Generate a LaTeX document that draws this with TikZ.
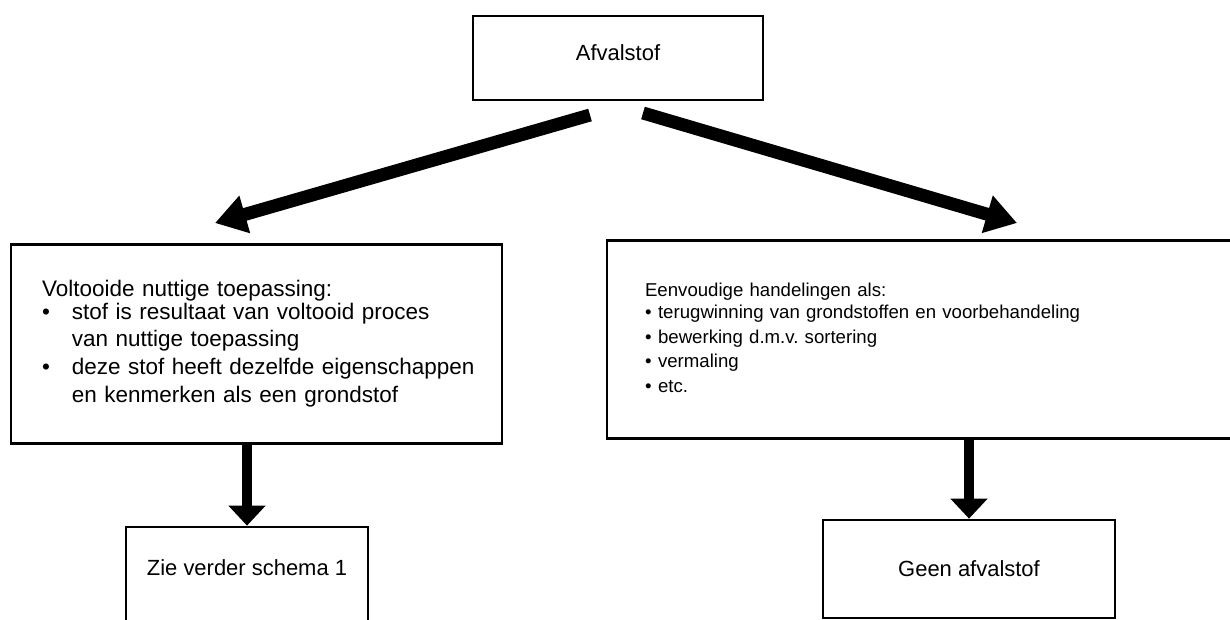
\documentclass[tikz,border=0pt]{standalone}
\usepackage{fontspec}
\setmainfont{Liberation Sans}
\usetikzlibrary{arrows.meta}
\frenchspacing

\begin{document}
\begin{tikzpicture}[x=0.02cm,y=-0.02cm]

    % Styles
    \tikzset{
        box/.style={rectangle, draw=black, line width=0.055cm, inner sep=0pt, font=\fontsize{12.5pt}{15pt}\selectfont},
        listbox/.style={box, align=left},
        bigarrow/.style={line width=0.26cm, -{Triangle[width=0.74cm,length=0.62cm]}},
        downarrow/.style={line width=0.2cm, -{Triangle[width=0.72cm,length=0.4cm]}}
    }

    % Frame (the right list box runs off the page)
    \useasboundingbox (0,0) rectangle (1230,619);
    \clip (0,0) rectangle (1230,619);

    % Boxes
    \node[box, minimum width=5.8cm, minimum height=1.68cm, text depth=0.2cm] (afval) at (618,58) {Afvalstof};

    \node[listbox, text width=8.58cm, inner xsep=0.62cm, minimum height=3.98cm,
          font=\fontsize{12.8pt}{15.9pt}\selectfont] (voltooid) at (256.5,344) {%
        \begin{tabular}{@{}l@{\hspace{0.44cm}}l@{}}
            \multicolumn{2}{@{}l@{}}{Voltooide nuttige toepassing:}\\[-3pt]
            \textbullet & stof is resultaat van voltooid proces\\
                        & van nuttige toepassing\\
            \textbullet & deze stof heeft dezelfde eigenschappen\\
                        & en kenmerken als een grondstof
        \end{tabular}};

    \node[listbox, text width=11.14cm, inner xsep=0.76cm, minimum height=3.96cm,
          font=\fontsize{10.6pt}{14.2pt}\selectfont] (handel) at (923.5,339.5) {%
        \begin{tabular}{@{}l@{\hspace{0.13cm}}l@{}}
            \multicolumn{2}{@{}l@{}}{Eenvoudige handelingen als:}\\[-1.7pt]
            \textbullet & terugwinning van grondstoffen en voorbehandeling\\
            \textbullet & bewerking d.m.v. sortering\\
            \textbullet & vermaling\\
            \textbullet & etc.
        \end{tabular}};

    \node[box, minimum width=4.84cm, minimum height=1.96cm, text depth=0.32cm] (schema) at (247,576) {Zie verder schema 1};
    \node[box, minimum width=5.84cm, minimum height=1.96cm] (geen) at (969,569) {Geen afvalstof};

    % Coordinates (free ends of the slanted arrows)
    \coordinate (lstart) at (590,115);
    \coordinate (lend) at (215,223);
    \coordinate (rstart) at (643,113);
    \coordinate (rend) at (1017,223);

    % Arrows
    \draw[bigarrow] (lstart) -- (lend);
    \draw[bigarrow] (rstart) -- (rend);
    \draw[downarrow] (voltooid.south -| schema.north) -- (schema.north);
    \draw[downarrow] (handel.south -| geen.north) -- (geen.north);

\end{tikzpicture}
\end{document}
